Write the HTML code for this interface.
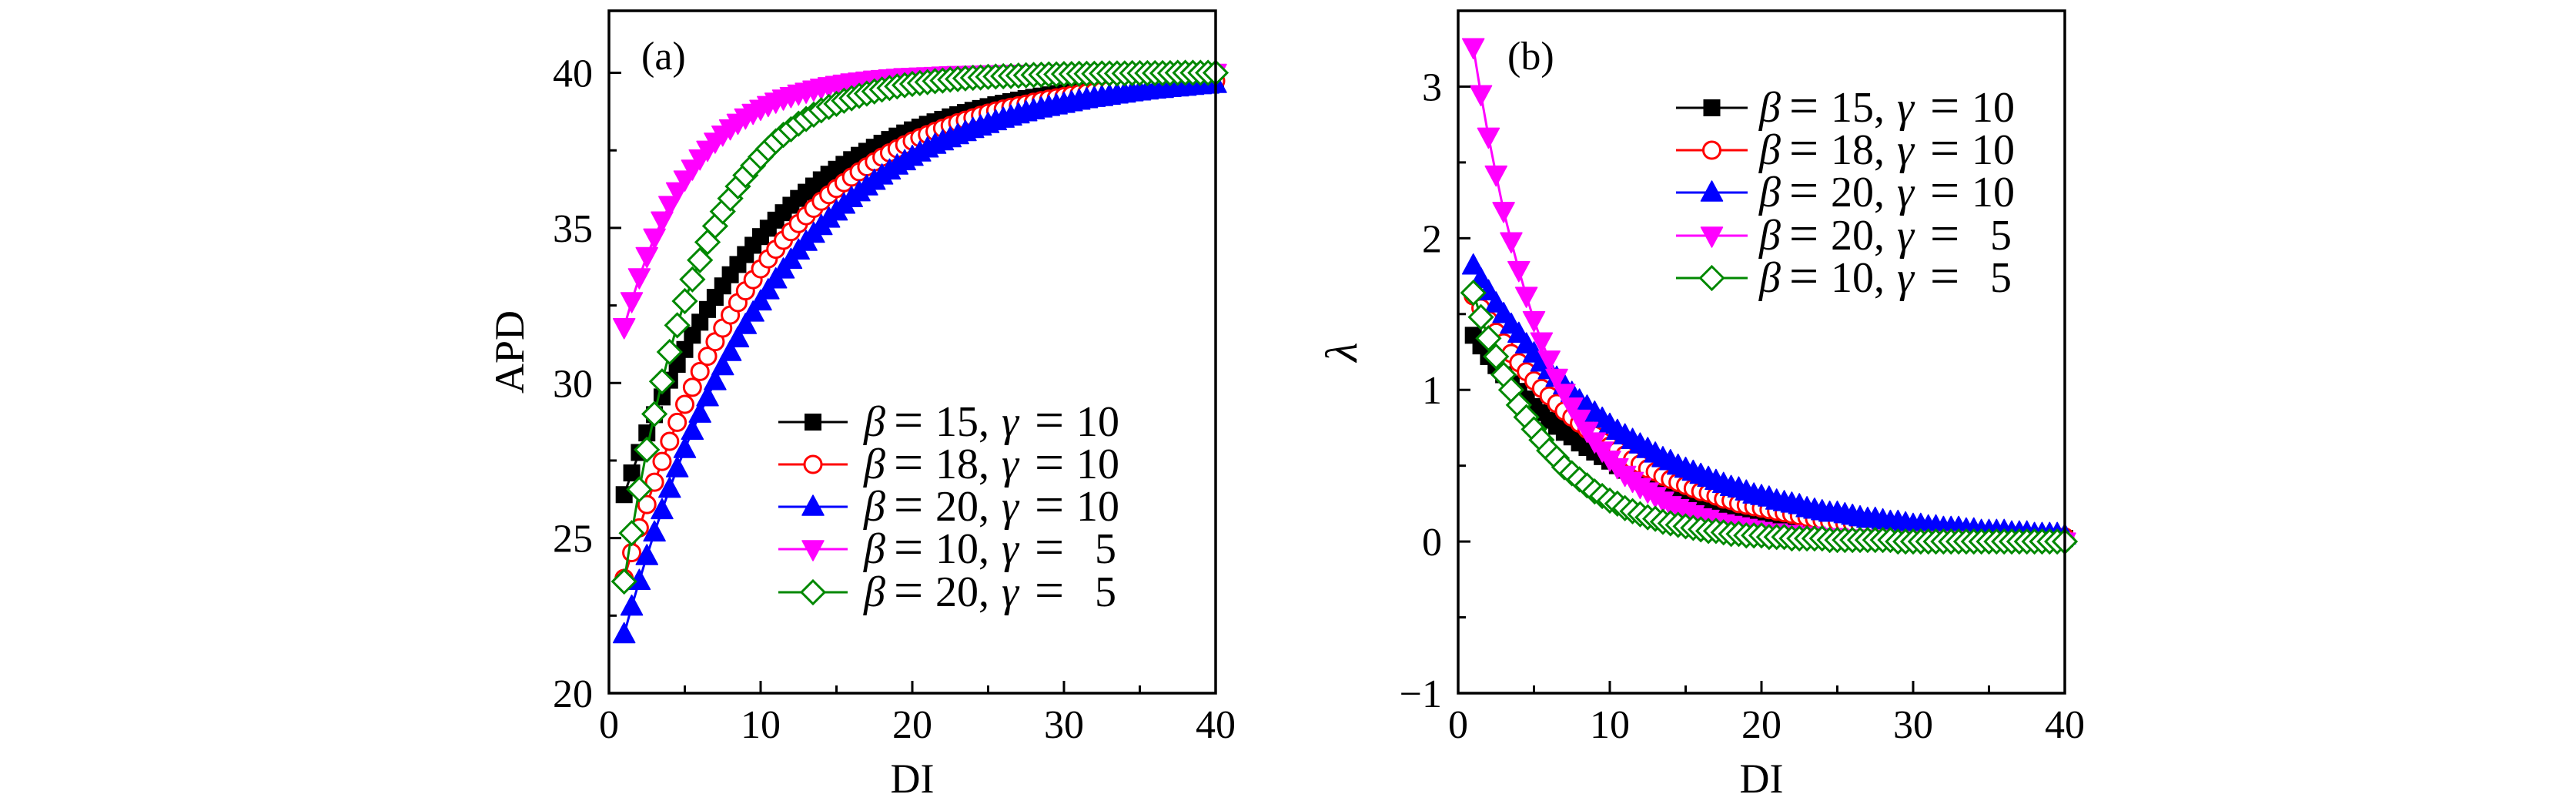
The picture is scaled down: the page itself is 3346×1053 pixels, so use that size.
<!DOCTYPE html>
<html><head><meta charset="utf-8"><style>
html,body{margin:0;padding:0;background:#fff;}
svg{display:block;font-family:"Liberation Serif","DejaVu Serif",serif;}
</style></head><body>
<svg id="fig" width="3346" height="1053" viewBox="0 0 3346 1053" xmlns="http://www.w3.org/2000/svg"></svg>
<script>
const xs = [1,1.5,2,2.5,3,3.5,4,4.5,5,5.5,6,6.5,7,7.5,8,8.5,9,9.5,10,10.5,11,11.5,12,12.5,13,13.5,14,14.5,15,15.5,16,16.5,17,17.5,18,18.5,19,19.5,20,20.5,21,21.5,22,22.5,23,23.5,24,24.5,25,25.5,26,26.5,27,27.5,28,28.5,29,29.5,30,30.5,31,31.5,32,32.5,33,33.5,34,34.5,35,35.5,36,36.5,37,37.5,38,38.5,39,39.5,40];
// Panel (a): APD
const apdB15G10 = [26.4,27.1,27.76,28.39,28.98,29.55,30.09,30.6,31.08,31.54,31.96,32.37,32.76,33.13,33.49,33.82,34.14,34.44,34.72,34.99,35.25,35.49,35.73,35.95,36.15,36.35,36.55,36.73,36.89,37.05,37.2,37.34,37.47,37.6,37.73,37.85,37.96,38.06,38.16,38.25,38.34,38.42,38.5,38.58,38.65,38.72,38.79,38.85,38.91,38.97,39.02,39.07,39.12,39.17,39.21,39.25,39.29,39.33,39.36,39.4,39.43,39.46,39.48,39.51,39.54,39.56,39.58,39.6,39.62,39.64,39.66,39.68,39.69,39.71,39.73,39.74,39.76,39.77,39.78];
const apdB18G10 = [23.7,24.53,25.33,26.08,26.8,27.47,28.12,28.73,29.31,29.86,30.37,30.86,31.33,31.77,32.19,32.59,32.97,33.33,33.68,34.0,34.31,34.6,34.88,35.14,35.39,35.63,35.86,36.07,36.27,36.46,36.64,36.81,36.97,37.13,37.28,37.42,37.55,37.68,37.8,37.91,38.01,38.11,38.21,38.3,38.39,38.47,38.55,38.63,38.7,38.77,38.83,38.89,38.94,38.99,39.05,39.1,39.15,39.19,39.23,39.28,39.32,39.35,39.38,39.42,39.45,39.47,39.49,39.52,39.54,39.57,39.59,39.61,39.63,39.65,39.67,39.69,39.71,39.72,39.74];
const apdB20G10 = [21.9,22.79,23.62,24.42,25.18,25.9,26.59,27.25,27.87,28.46,29.01,29.54,30.06,30.54,31.0,31.44,31.87,32.27,32.63,32.99,33.34,33.66,33.97,34.27,34.55,34.81,35.06,35.3,35.53,35.75,35.96,36.15,36.34,36.52,36.69,36.85,37.01,37.15,37.29,37.43,37.56,37.68,37.79,37.89,37.99,38.09,38.19,38.27,38.35,38.44,38.52,38.59,38.66,38.73,38.79,38.85,38.9,38.95,39.0,39.05,39.1,39.15,39.19,39.22,39.26,39.3,39.33,39.37,39.4,39.43,39.46,39.48,39.51,39.53,39.55,39.58,39.6,39.62,39.64];
const apdB10G5 = [31.8,32.64,33.41,34.09,34.69,35.24,35.74,36.18,36.56,36.91,37.24,37.52,37.78,38.01,38.21,38.39,38.56,38.71,38.84,38.96,39.07,39.17,39.25,39.33,39.39,39.46,39.52,39.57,39.61,39.65,39.69,39.72,39.75,39.78,39.8,39.82,39.84,39.86,39.87,39.88,39.89,39.9,39.91,39.92,39.93,39.93,39.94,39.94,39.95,39.95,39.96,39.96,39.97,39.97,39.97,39.97,39.98,39.98,39.98,39.98,39.98,39.99,39.99,39.99,39.99,39.99,39.99,39.99,39.99,40,40,40,40,40,40,40,40,40,40];
const apdB20G5 = [23.6,25.16,26.57,27.85,29.0,30.05,31.0,31.86,32.64,33.34,33.96,34.54,35.06,35.53,35.95,36.34,36.7,37.01,37.29,37.55,37.79,38.0,38.18,38.36,38.51,38.65,38.79,38.9,39.0,39.1,39.18,39.26,39.33,39.4,39.46,39.51,39.56,39.6,39.64,39.67,39.7,39.73,39.75,39.78,39.8,39.82,39.84,39.85,39.87,39.88,39.89,39.9,39.91,39.92,39.93,39.94,39.95,39.95,39.96,39.96,39.97,39.97,39.97,39.98,39.98,39.98,39.98,39.99,39.99,39.99,39.99,39.99,39.99,40,40,40,40,40,40];
// Panel (b): lambda
const lamB15G10 = [1.36,1.29,1.22,1.16,1.1,1.04,0.99,0.94,0.89,0.85,0.8,0.76,0.72,0.69,0.65,0.62,0.59,0.56,0.53,0.5,0.47,0.45,0.43,0.41,0.38,0.36,0.35,0.33,0.31,0.29,0.28,0.26,0.25,0.24,0.23,0.21,0.2,0.19,0.18,0.17,0.17,0.16,0.15,0.14,0.13,0.13,0.12,0.11,0.11,0.1,0.1,0.09,0.09,0.08,0.08,0.07,0.07,0.07,0.06,0.06,0.06,0.05,0.05,0.05,0.05,0.04,0.04,0.04,0.04,0.04,0.03,0.03,0.03,0.03,0.03,0.02,0.02,0.02,0.02];
const lamB18G10 = [1.62,1.54,1.46,1.38,1.31,1.24,1.18,1.12,1.06,1.01,0.96,0.91,0.86,0.82,0.78,0.74,0.7,0.66,0.63,0.6,0.57,0.54,0.51,0.48,0.46,0.43,0.41,0.39,0.37,0.35,0.33,0.32,0.3,0.28,0.27,0.25,0.24,0.23,0.22,0.21,0.2,0.19,0.18,0.17,0.16,0.15,0.14,0.13,0.13,0.12,0.12,0.11,0.11,0.1,0.09,0.09,0.08,0.08,0.08,0.07,0.07,0.07,0.06,0.06,0.06,0.05,0.05,0.05,0.05,0.04,0.04,0.04,0.04,0.03,0.03,0.03,0.03,0.03,0.03];
const lamB20G10 = [1.82,1.73,1.65,1.57,1.5,1.43,1.37,1.3,1.24,1.18,1.13,1.08,1.03,0.98,0.93,0.89,0.85,0.81,0.77,0.73,0.7,0.67,0.64,0.61,0.58,0.55,0.53,0.5,0.48,0.46,0.44,0.42,0.4,0.38,0.36,0.35,0.33,0.31,0.3,0.29,0.27,0.26,0.25,0.24,0.22,0.21,0.2,0.19,0.19,0.18,0.17,0.16,0.15,0.15,0.14,0.13,0.13,0.12,0.11,0.11,0.1,0.1,0.09,0.09,0.09,0.08,0.08,0.07,0.07,0.07,0.07,0.06,0.06,0.06,0.05,0.05,0.05,0.05,0.04];
const lamB20G5 = [3.26,2.95,2.67,2.42,2.18,1.98,1.79,1.62,1.46,1.32,1.2,1.08,0.98,0.89,0.81,0.73,0.66,0.6,0.54,0.49,0.44,0.4,0.36,0.33,0.3,0.27,0.24,0.22,0.2,0.18,0.16,0.15,0.13,0.12,0.11,0.1,0.09,0.08,0.07,0.06,0.06,0.05,0.05,0.04,0.04,0.04,0.03,0.03,0.03,0.02,0.02,0.02,0.02,0.02,0.02,0.01,0.01,0.01,0.01,0.01,0.01,0.01,0.01,0.01,0.01,0,0,0,0,0,0,0,0,0,0,0,0,0,0];
const lamB10G5 = [1.64,1.48,1.34,1.22,1.1,1.0,0.9,0.82,0.74,0.67,0.6,0.55,0.49,0.45,0.41,0.37,0.33,0.3,0.27,0.25,0.22,0.2,0.18,0.16,0.15,0.13,0.12,0.11,0.1,0.09,0.08,0.07,0.07,0.06,0.05,0.05,0.04,0.04,0.04,0.03,0.03,0.03,0.02,0.02,0.02,0.02,0.02,0.01,0.01,0.01,0.01,0.01,0.01,0.01,0.01,0.01,0,0,0,0,0,0,0,0,0,0,0,0,0,0,0,0,0,0,0,0,0,0,0];
const xTicks = [0,10,20,30,40];
const apdTicks = [20,25,30,35,40];
const lamTicks = [-1,0,1,2,3];
const lamTickLabels = ["\u22121","0","1","2","3"];
const legendA = ["15","18","20","10","20"];
const legendAg = ["10","10","10","5","5"];
const legendB = ["15","18","20","20","10"];
const legendBg = ["10","10","10","5","5"];

const NS = "http://www.w3.org/2000/svg";
const svg = document.getElementById("fig");
function mk(tag, attrs, parent){ const e=document.createElementNS(NS,tag); for(const k in attrs) e.setAttribute(k,attrs[k]); (parent||svg).appendChild(e); return e; }

const styles = [
 {name:"black-squares", color:"#000", shape:"square"},
 {name:"red-circles", color:"#f00", shape:"circle"},
 {name:"blue-triangles", color:"#00f", shape:"up"},
 {name:"magenta-triangles", color:"#f0f", shape:"down"},
 {name:"green-diamonds", color:"#080", shape:"diamond"}
];

function marker(g, shape, cx, cy, color){
  let e;
  if(shape==="square") e=mk("rect",{x:cx-11,y:cy-11,width:22,height:22,fill:color},g);
  else if(shape==="circle") e=mk("circle",{cx:cx,cy:cy,r:11,fill:"#fff",stroke:color,"stroke-width":3},g);
  else if(shape==="up") e=mk("polygon",{points:`${cx-14},${cy+11} ${cx+14},${cy+11} ${cx},${cy-15}`,fill:color,stroke:color,"stroke-width":1.5,"stroke-linejoin":"round"},g);
  else if(shape==="down") e=mk("polygon",{points:`${cx-14},${cy-11} ${cx+14},${cy-11} ${cx},${cy+15}`,fill:color,stroke:color,"stroke-width":1.5,"stroke-linejoin":"round"},g);
  else e=mk("polygon",{points:`${cx},${cy-15} ${cx+15},${cy} ${cx},${cy+15} ${cx-15},${cy}`,fill:"#fff",stroke:color,"stroke-width":3},g);
  return e;
}

function panel(opt){
  const L=opt.left,R=opt.right,T=14,B=900;
  const sx=v=>L+(v-0)/40*(R-L);
  const sy=v=>B-(v-opt.ymin)/(opt.ymax-opt.ymin)*(B-T);
  const g=mk("g",{});
  
  
  opt.series.forEach((s,i)=>{
    const st=styles[i];
    const n=Math.min(xs.length,s.length);
    const sg=mk("g",{},g);
    
    
    const arr=[]; for(let j=0;j<n;j++) arr.push(sx(xs[j])+","+sy(s[j]));
    const pl=mk("polyline",{points:arr.join(" "),fill:"none",stroke:st.color,"stroke-width":3},sg);
    
    
    for(let j=0;j<n;j++){
      const m=marker(sg,st.shape,sx(xs[j]),sy(s[j]),st.color);
      
      
    }
  });
  const fr=mk("rect",{x:L,y:T,width:R-L,height:B-T,fill:"none",stroke:"#000","stroke-width":3.5},g);
  
  
  for(let v=0; v<=40; v+=5){
    const major=v%10===0;
    const t=mk("line",{x1:sx(v),x2:sx(v),y1:B,y2:B-(major?16:10),stroke:"#000","stroke-width":3},g);
    
    
  }
  xTicks.forEach(v=>{
    const t=mk("text",{x:sx(v),y:958,"font-size":52,"text-anchor":"middle"},g);
    t.textContent=String(v);
    
    
  });
  const step=(opt.yticks[1]-opt.yticks[0])/2;
  for(let v=opt.ymin; v<=opt.ymax+1e-9; v+=step){
    const r=(v-opt.yticks[0])/(2*step);
    const major=Math.abs(r-Math.round(r))<1e-6;
    const t=mk("line",{x1:L,x2:L+(major?16:10),y1:sy(v),y2:sy(v),stroke:"#000","stroke-width":3},g);
    
    
  }
  opt.yticks.forEach((v,i)=>{
    const t=mk("text",{x:L-21,y:sy(v)+18,"font-size":52,"text-anchor":"end"},g);
    t.textContent=opt.ylabels[i];
    
    
  });
  const xt=mk("text",{x:(L+R)/2,y:1029,"font-size":54,"text-anchor":"middle"},g);
  xt.textContent="DI";
  
  
  const yt=mk("text",{x:0,y:0,"font-size":opt.ytitleItalic?58:54,"text-anchor":"middle","font-style":opt.ytitleItalic?"italic":"normal",transform:`translate(${opt.ytx},457) rotate(-90)`},g);
  yt.textContent=opt.ytitle;
  
  
  const pl=mk("text",{x:opt.labx,y:90,"font-size":52},g);
  pl.textContent=opt.panelLabel;
  
  
  const lg=mk("g",{},g);
  
  
  opt.legRows.forEach((cy,i)=>{
    const st=styles[i];
    const eg=mk("g",{},lg);
    
    
    mk("line",{x1:opt.legX1,x2:opt.legX2,y1:cy,y2:cy,stroke:st.color,"stroke-width":3},eg);
    marker(eg,st.shape,(opt.legX1+opt.legX2)/2,cy,st.color);
    const tx=opt.legT, by=cy+18;
    const t1=mk("text",{x:tx,y:by,"font-size":56,"font-style":"italic"},eg); t1.textContent="\u03b2";
    const t2=mk("text",{x:tx+58,y:by+2,"font-size":68,"text-anchor":"middle"},eg); t2.textContent="=";
    const t2b=mk("text",{x:tx+93,y:by,"font-size":56},eg); t2b.textContent=opt.legB[i]+",";
    const t3=mk("text",{x:tx+179,y:by,"font-size":56,"font-style":"italic"},eg); t3.textContent="\u03b3";
    const t4=mk("text",{x:tx+241,y:by+2,"font-size":68,"text-anchor":"middle"},eg); t4.textContent="=";
    const g2=opt.legG[i];
    const t5=mk("text",{x:tx+(g2.length===2?276:300),y:by,"font-size":56},eg); t5.textContent=g2;
  });
}

panel({name:"panel-a-apd",left:791,right:1579,ymin:20,ymax:42,yticks:apdTicks,ylabels:apdTicks.map(String),
  series:[apdB15G10,apdB18G10,apdB20G10,apdB10G5,apdB20G5],ytitle:"APD",ytx:680,ytitleItalic:false,panelLabel:"(a)",labx:833,
  legRows:[548,603,658,713,769],legX1:1011,legX2:1101,legT:1122,legB:legendA,legG:legendAg});
panel({name:"panel-b-lambda",left:1894,right:2682,ymin:-1,ymax:3.5,yticks:lamTicks,ylabels:lamTickLabels,
  series:[lamB15G10,lamB18G10,lamB20G10,lamB20G5,lamB10G5],ytitle:"\u03bb",ytx:1762,ytitleItalic:true,panelLabel:"(b)",labx:1958,
  legRows:[140,195,250,306,361],legX1:2177,legX2:2270,legT:2285,legB:legendB,legG:legendBg});
</script>
</body></html>
